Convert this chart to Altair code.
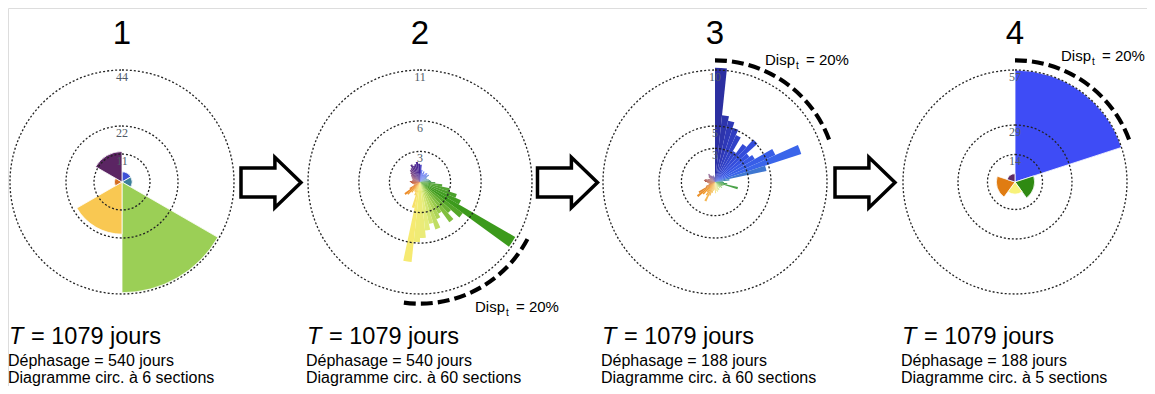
import altair as alt
import pandas as pd

# ---------------- data ----------------
PANELS = [1, 2, 3, 4]
SECTIONS = [6, 60, 60, 5]
RING_LABELS = [[11, 22, 44], [3, 6, 11], [3, 5, 10], [14, 29, 57]]
PERIOD_DAYS = [1079, 1079, 1079, 1079]
DEPHASAGE_DAYS = [540, 540, 188, 188]

VALUES_1 = [4.0, 4.0, 43.5, 20.5, 3.0, 12.0]
VALUES_2 = [1.7, 1.2, 0.9, 1.1, 0.8, 1.0, 1.1, 0.9, 1.1, 0.8,
            0.7, 0.8, 0.9, 1.0, 1.1, 1.5, 2.2, 3.0, 3.8, 4.4,
            10.8, 5.2, 4.1, 4.9, 3.6, 4.0, 4.9, 4.2, 4.8, 5.5,
            5.9, 7.9, 2.6, 1.4, 1.1, 1.0, 1.3, 1.7, 1.9, 1.2,
            0.7, 0.6, 0.7, 0.8, 0.9, 1.0, 0.8, 0.7, 0.8, 0.9,
            1.0, 1.1, 1.3, 1.5, 1.6, 1.9, 1.7, 1.8, 2.0, 1.8]
VALUES_3 = [10.2, 6.0, 5.6, 5.1, 4.6, 3.2, 4.2, 5.1, 3.8, 4.1,
            5.9, 8.1, 4.7, 1.3, 0.7, 0.8, 1.1, 2.1, 0.8, 0.7,
            0.6, 0.8, 0.6, 0.7, 0.5, 0.8, 0.7, 0.9, 0.8, 1.0,
            0.7, 0.8, 1.0, 1.3, 1.9, 1.4, 1.1, 1.5, 2.0, 1.7,
            0.9, 0.6, 0.5, 0.6, 0.7, 0.9, 1.0, 0.9, 0.7, 0.6,
            0.5, 0.7, 0.8, 0.9, 0.7, 0.6, 0.5, 0.6, 0.5, 0.4]
VALUES_4 = [57.0, 10.0, 6.2, 9.5, 4.2]
ALL_VALUES = [VALUES_1, VALUES_2, VALUES_3, VALUES_4]

DISP_PANELS = [2, 3, 4]
DISP_PCT = [20, 20, 20]
DISP_START_DEG = [118, 0, 0]
ARROW_POS = [1.5, 2.5, 3.5]

# ---------------- style / layout ----------------
CENTERS = [114, 412, 707, 1007]
CY = 174
R = 112
FONT = "Liberation Sans"
P1_COLS = ["#3f51d6", "#3d7f9b", "#9bcf56", "#f9c852", "#d46e22", "#5b2563"]
P4_COLS = ["#3e4cf6", "#2f8a12", "#f8f27a", "#e07c12", "#5e2a63"]
STOPS_2 = [0, 6, 40, 70, 100, 123, 150, 170, 190, 215, 228, 265, 300, 330, 360]
COLS_2 = ["#43249a", "#5f72ee", "#6f84f2", "#5f98b8", "#58a838", "#3c9a1c",
          "#a3d050", "#e3ec7c", "#f7ea70", "#f5b54a", "#f0902a", "#c0502a",
          "#9a5a78", "#5e3488", "#43249a"]
STOPS_3 = [0, 20, 50, 70, 85, 100, 140, 170, 200, 225, 270, 310, 340, 360]
COLS_3 = ["#2b2d9c", "#2f3cc0", "#3550e0", "#3a66ea", "#4a9aa0", "#3a9a40",
          "#b8dc80", "#f6ec98", "#f5c060", "#f39a28", "#b5553a", "#9a6a8a",
          "#6a4a9a", "#2b2d9c"]
ARROW = "M -1 -0.48 L 0.13 -0.48 L 0.13 -0.84 L 1 0 L 0.13 0.84 L 0.13 0.48 L -1 0.48 Z"
N_DASH, DASH_STEP, DASH_LEN = 9, 8, 5.6

# ---------------- tables ----------------
bar_frames = []
for p, n, vals, rings in zip(PANELS, SECTIONS, ALL_VALUES, RING_LABELS):
    w = 360.0 / n
    df = pd.DataFrame({"panel": p, "i": range(n), "v": vals})
    df["t0"] = df["i"] * w
    df["t1"] = df["t0"] + w
    df["mid"] = df["t0"] + w / 2
    df["r"] = df["v"] / max(rings)
    bar_frames.append(df)

ring_rows = []
for p, rings in zip(PANELS, RING_LABELS):
    for v in rings:
        ring_rows.append({"panel": p, "value": v, "r": v / max(rings)})
rings_df = pd.DataFrame(ring_rows)

info_df = pd.DataFrame({"panel": PANELS, "T": PERIOD_DAYS, "deph": DEPHASAGE_DAYS, "n": SECTIONS})
info_df["num"] = info_df["panel"].astype(str)
info_df["line1"] = "= " + info_df["T"].astype(str) + " jours"
info_df["line2"] = "Déphasage = " + info_df["deph"].astype(str) + " jours"
info_df["line3"] = "Diagramme circ. à " + info_df["n"].astype(str) + " sections"

arrow_df = pd.DataFrame({"pos": ARROW_POS})

# ---------------- scales ----------------
xs = alt.Scale(domain=PANELS, range=CENTERS)
ths = alt.Scale(domain=[0, 360], range=[0, 6.283185307179586])
rs = alt.Scale(type="linear", domain=[0, 1], range=[0, R])
X = alt.X("panel:Q", scale=xs, axis=None, stack=None)


def bars(df, color, stroke_w):
    return alt.Chart(df).mark_arc(stroke="white", strokeWidth=stroke_w).encode(
        x=X, y=alt.value(CY),
        theta=alt.Theta("t0:Q", scale=ths, stack=None),
        theta2="t1:Q",
        radius=alt.Radius("r:Q", scale=rs, stack=None),
        color=color,
    )


layers = [
    bars(bar_frames[0], alt.Color("i:O", scale=alt.Scale(domain=list(range(6)), range=P1_COLS), legend=None), 0.8),
    bars(bar_frames[1], alt.Color("mid:Q", scale=alt.Scale(domain=STOPS_2, range=COLS_2, interpolate="rgb"), legend=None), 0),
    bars(bar_frames[2], alt.Color("mid:Q", scale=alt.Scale(domain=STOPS_3, range=COLS_3, interpolate="rgb"), legend=None), 0),
    bars(bar_frames[3], alt.Color("i:O", scale=alt.Scale(domain=list(range(5)), range=P4_COLS), legend=None), 0.8),
]

rings = alt.Chart(rings_df).mark_arc(filled=False, stroke="#222", strokeWidth=1.3, strokeDash=[2, 2]).encode(
    x=X, y=alt.value(CY),
    theta=alt.datum(0), theta2=alt.datum(360),
    radius=alt.Radius("r:Q", scale=rs, stack=None),
)
ring_labels = alt.Chart(rings_df).mark_text(font="Liberation Serif", fontSize=12, color="#505a66",
                                            baseline="middle", dy=7).encode(
    x=X, y=alt.value(CY), theta=alt.datum(0),
    radius=alt.Radius("r:Q", scale=rs, stack=None), text="value:Q",
)
layers += [rings, ring_labels]

# dashed Disp arcs
for p, start in zip(DISP_PANELS, DISP_START_DEG):
    arc = alt.Chart(alt.sequence(0, N_DASH, as_="k")).transform_calculate(
        panel=f"{p}",
        a0=f"{start} + datum.k * {DASH_STEP}",
        a1=f"{start} + datum.k * {DASH_STEP} + {DASH_LEN}",
        ro="1.105", ri="1.068",
    ).mark_arc(color="black").encode(
        x=X, y=alt.value(CY),
        theta=alt.Theta("a0:Q", scale=ths, stack=None), theta2="a1:Q",
        radius=alt.Radius("ro:Q", scale=rs, stack=None), radius2="ri:Q",
    )
    layers.append(arc)

# Disp labels (alphabetic baselines)
DISP_DX = {2: 55, 3: 50, 4: 46}
DISP_Y = {2: 304, 3: 57, 4: 53}
for p, pct in zip(DISP_PANELS, DISP_PCT):
    d = pd.DataFrame({"panel": [p], "a": ["Disp"], "b": ["t"], "c": [f"= {pct}%"]})
    base = alt.Chart(d)
    dx0 = DISP_DX[p]
    y0 = DISP_Y[p]
    layers.append(base.mark_text(font=FONT, fontSize=15, align="left", baseline="alphabetic", dx=dx0).encode(
        x=X, y=alt.value(y0), text="a:N"))
    layers.append(base.mark_text(font=FONT, fontSize=10, align="left", baseline="alphabetic",
                                 dx=dx0 + 31, dy=4).encode(x=X, y=alt.value(y0), text="b:N"))
    layers.append(base.mark_text(font=FONT, fontSize=15, align="left", baseline="alphabetic", dx=dx0 + 41).encode(
        x=X, y=alt.value(y0), text="c:N"))

# panel numbers and captions
info = alt.Chart(info_df)
layers += [
    info.mark_text(font=FONT, fontSize=33, baseline="alphabetic").encode(x=X, y=alt.value(36), text="num:N"),
    info.mark_text(font=FONT, fontSize=23.5, fontStyle="italic", align="left", baseline="alphabetic",
                   dx=-113).encode(x=X, y=alt.value(336), text=alt.value("T")),
    info.mark_text(font=FONT, fontSize=23.5, align="left", baseline="alphabetic", dx=-91).encode(
        x=X, y=alt.value(336), text="line1:N"),
    info.mark_text(font=FONT, fontSize=16, align="left", baseline="alphabetic", dx=-114).encode(
        x=X, y=alt.value(358), text="line2:N"),
    info.mark_text(font=FONT, fontSize=16, align="left", baseline="alphabetic", dx=-114).encode(
        x=X, y=alt.value(374.5), text="line3:N"),
]

arrows = alt.Chart(arrow_df).mark_point(shape=ARROW, size=3600, filled=True, fill="white", stroke="black",
                                        strokeWidth=3.5, opacity=1, fillOpacity=1, strokeOpacity=1).encode(
    x=alt.X("pos:Q", scale=xs, axis=None, stack=None), y=alt.value(CY + 0.5),
)
layers.append(arrows)

chart = alt.layer(*layers).resolve_scale(color="independent").properties(
    width=1139, height=378, autosize=alt.AutoSizeParams(type="none"), padding=0,
).configure_view(stroke=None).configure(background="white")

chart.save("out.html", embed_options={"renderer": "svg", "actions": False})
